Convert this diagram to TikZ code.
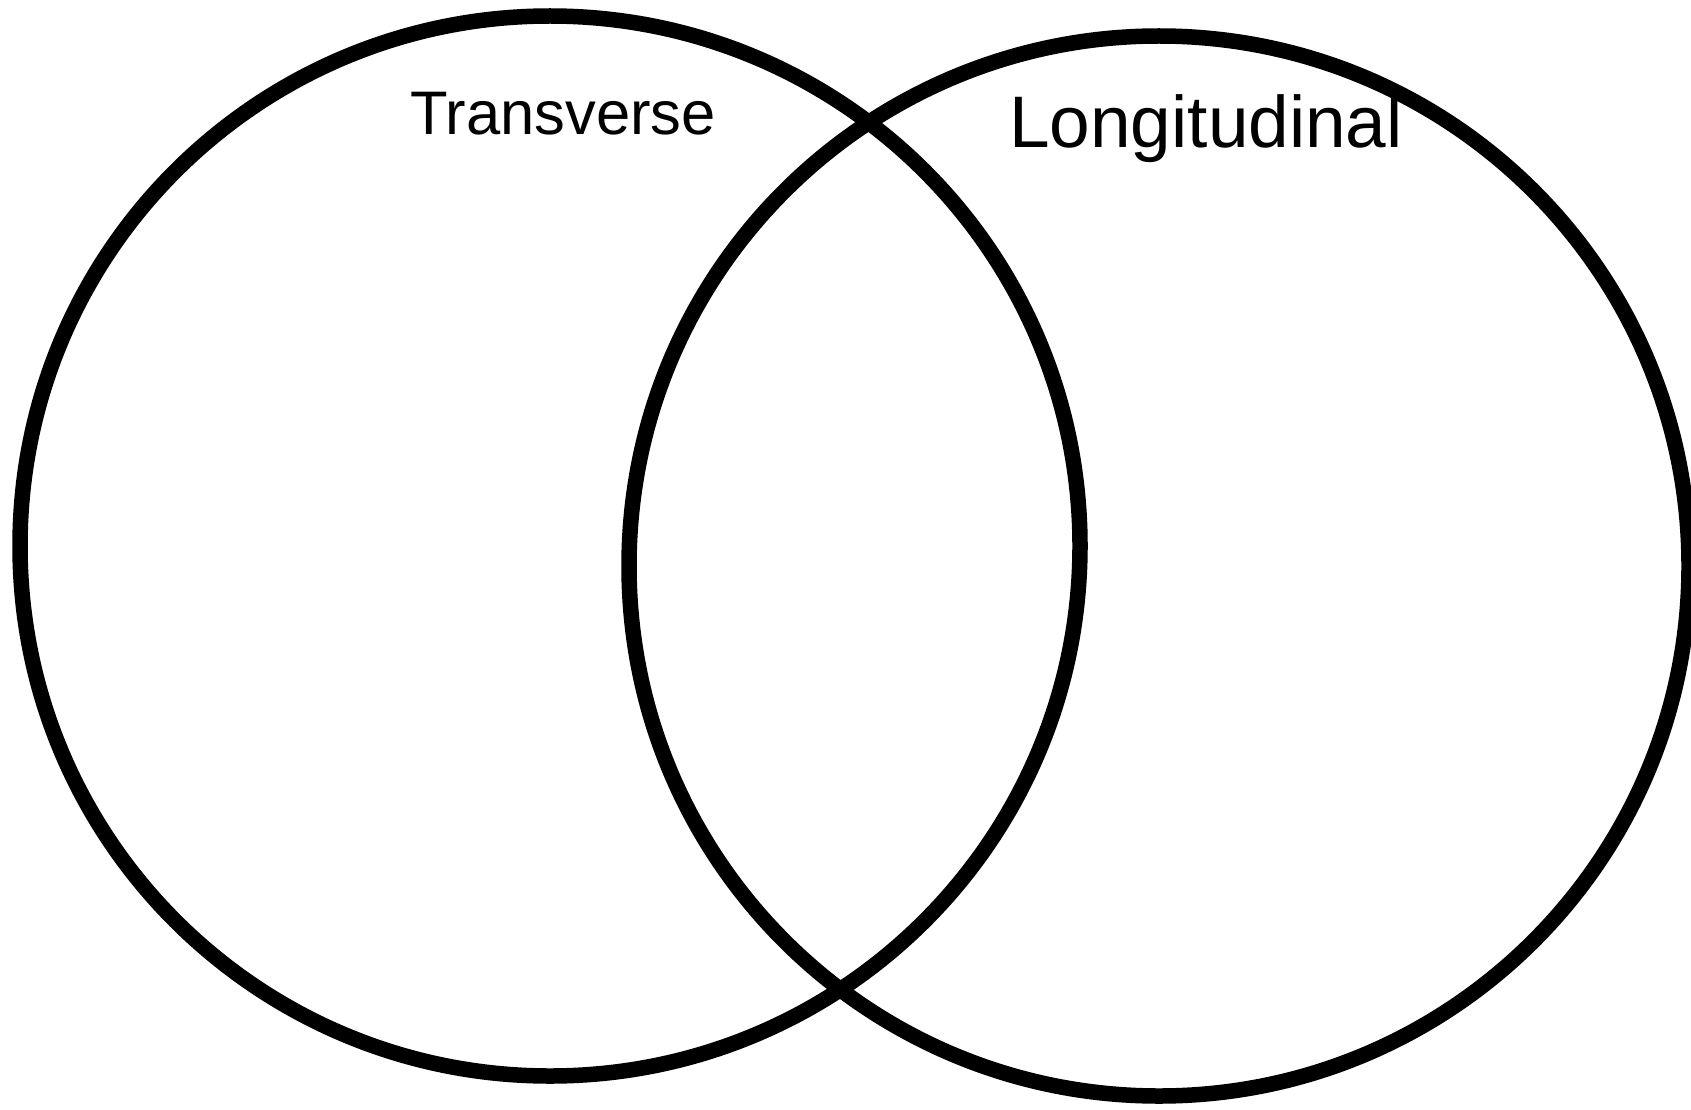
\documentclass[tikz,border=0pt]{standalone}
\usepackage{fontspec}
\setmainfont{Liberation Sans}
\begin{document}
\begin{tikzpicture}[x=1pt,y=-1pt,
  setring/.style={circle,draw=black,line width=15.5pt,minimum size=1060pt,inner sep=0pt},
  setlabel/.style={anchor=base,inner sep=0pt}]
  \useasboundingbox (0,0) rectangle (1691,1110);
  \fill[white] (0,0) rectangle (1691,1110);
  % the two overlapping sets
  \node[setring] (trans) at (550,546) {};
  \node[setring] (long) at (1159,566) {};
  % set titles
  \node[setlabel,font=\fontsize{61.5}{70}\selectfont] (transLabel) at (563,135) {Transverse};
  \node[setlabel,font=\fontsize{73}{84}\selectfont] (longLabel) at (1206,148) {Longitudinal};
\end{tikzpicture}
\end{document}
